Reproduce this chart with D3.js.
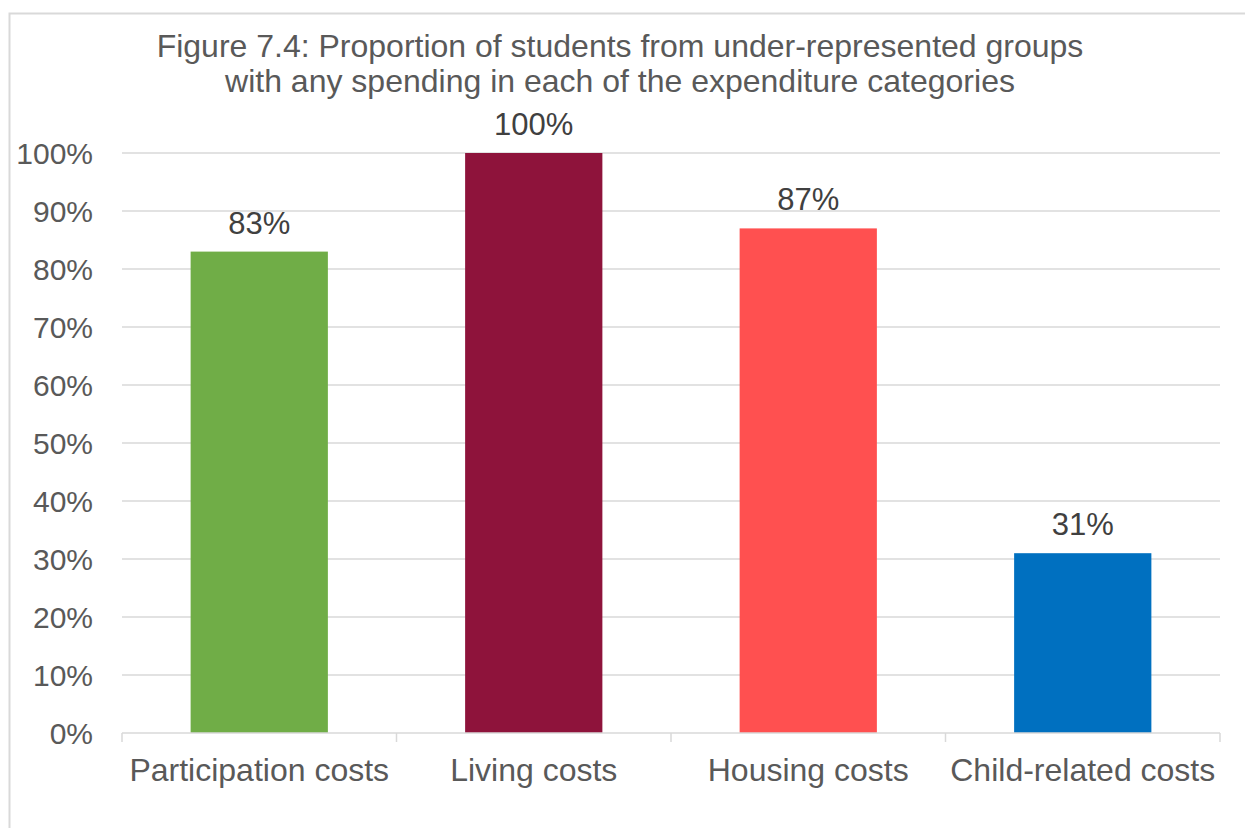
<!DOCTYPE html>
<html>
<head>
<meta charset="utf-8">
<script src="https://cdn.jsdelivr.net/npm/d3@7"></script>
<style>
  body { margin: 0; background: #fff; }
  svg { font-family: "Liberation Sans", Arial, sans-serif; }
</style>
</head>
<body>
<svg id="chart"></svg>
<script>
// data
const categories = ["Participation costs", "Living costs", "Housing costs", "Child-related costs"]
const values = [83, 100, 87, 31]
const barColors = ["#70AD47", "#8E133B", "#FF5050", "#0070C0"]
const yTicks = [0, 10, 20, 30, 40, 50, 60, 70, 80, 90, 100]
const titleLines = ["Figure 7.4: Proportion of students from under-represented groups",
                    "with any spending in each of the expenditure categories"]

const width = 1245, height = 828
const margin = {left: 122, right: 25, top: 153, bottom: 95}
const textColor = "#595959"

const svg = d3.select("#chart").attr("width", width).attr("height", height)

// chart border
svg.append("rect")
  .attr("x", 9.5).attr("y", 13.5)
  .attr("width", width + 10).attr("height", height + 10)
  .attr("fill", "none").attr("stroke", "#d9d9d9").attr("stroke-width", 2)

const x = d3.scaleBand()
  .domain(categories)
  .range([margin.left, width - margin.right])
  .paddingInner(0.5).paddingOuter(0.25)

const y = d3.scaleLinear()
  .domain([0, 100])
  .range([height - margin.bottom, margin.top])

// gridlines
svg.append("g")
  .selectAll("line")
  .data(yTicks.slice(1))
  .join("line")
  .attr("x1", margin.left).attr("x2", width - margin.right)
  .attr("y1", d => y(d)).attr("y2", d => y(d))
  .attr("stroke", "#d9d9d9").attr("stroke-width", 1.5)

// y labels
svg.append("g")
  .selectAll("text")
  .data(yTicks)
  .join("text")
  .attr("x", 93)
  .attr("y", d => y(d))
  .attr("dy", "0.35em")
  .attr("text-anchor", "end")
  .attr("fill", textColor)
  .style("font-size", "30px")
  .text(d => d + "%")

// bars
svg.append("g")
  .selectAll("rect")
  .data(values)
  .join("rect")
  .attr("x", (d, i) => x(categories[i]))
  .attr("width", x.bandwidth())
  .attr("y", d => y(d))
  .attr("height", d => y(0) - y(d))
  .attr("fill", (d, i) => barColors[i])

// value labels
svg.append("g")
  .selectAll("text")
  .data(values)
  .join("text")
  .attr("x", (d, i) => x(categories[i]) + x.bandwidth() / 2)
  .attr("y", d => y(d) - 18)
  .attr("text-anchor", "middle")
  .attr("fill", "#404040")
  .style("font-size", "31px")
  .text(d => d + "%")

// x axis
const xg = svg.append("g").attr("transform", `translate(0,${y(0)})`)
xg.append("line")
  .attr("x1", margin.left).attr("x2", width - margin.right)
  .attr("stroke", "#d9d9d9").attr("stroke-width", 1.5)
const sepX = i => margin.left + i * (width - margin.right - margin.left) / categories.length
xg.selectAll(".sep")
  .data(d3.range(categories.length + 1))
  .join("line")
  .attr("x1", sepX).attr("x2", sepX)
  .attr("y1", 0).attr("y2", 9)
  .attr("stroke", "#d9d9d9").attr("stroke-width", 1.5)
xg.selectAll(".lab")
  .data(categories)
  .join("text")
  .attr("x", d => x(d) + x.bandwidth() / 2)
  .attr("y", 48)
  .attr("text-anchor", "middle")
  .attr("fill", textColor)
  .style("font-size", "32px")
  .text(d => d)

// title
svg.append("text")
  .attr("y", 57)
  .attr("text-anchor", "middle")
  .attr("fill", textColor)
  .style("font-size", "32px")
  .selectAll("tspan")
  .data(titleLines)
  .join("tspan")
  .attr("x", 620)
  .attr("dy", (d, i) => i === 0 ? 0 : 35)
  .text(d => d)
</script>
</body>
</html>
